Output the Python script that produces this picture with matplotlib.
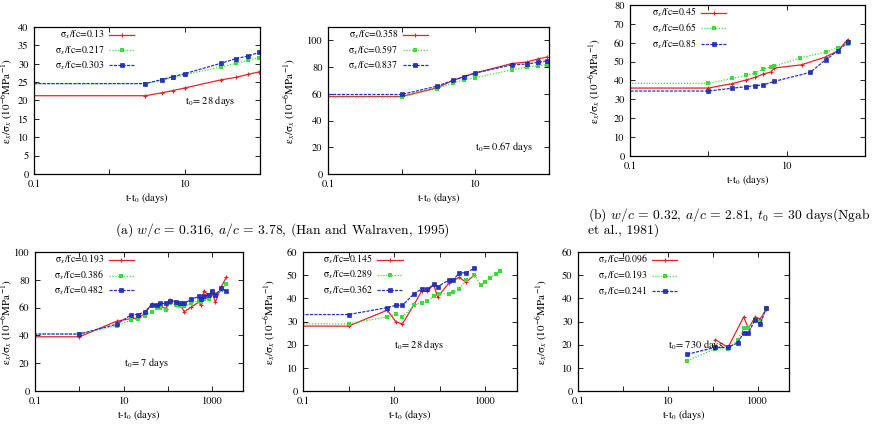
import matplotlib.pyplot as plt
from matplotlib.ticker import FixedLocator, NullFormatter

plt.rcParams['font.family'] = 'STIXGeneral'
plt.rcParams['mathtext.fontset'] = 'stix'

# (a) left, t0 = 28 days
a1_x = [0.01, 3, 5, 7, 10, 30, 48, 69, 98]
a1_r = [21.3, 21.3, 22.1, 22.7, 23.4, 25.6, 26.3, 27.1, 27.8]
a1_g = [24.6, 24.6, 25.5, 26.2, 27.0, 29.1, 30.1, 30.9, 31.7]
a1_b = [24.6, 24.6, 25.7, 26.5, 27.3, 30.1, 31.4, 32.1, 33.1]

# (a) right, t0 = 0.67 days
a2_x = [0.01, 1, 3, 5, 7, 10, 31, 50, 71, 95]
a2_r = [58.0, 58.0, 64.4, 70.1, 72.9, 75.6, 82.6, 83.8, 86.1, 87.6]
a2_g = [57.5, 57.5, 63.9, 68.2, 70.6, 72.1, 77.9, 79.9, 81.1, 81.8]
a2_b = [59.5, 59.5, 65.7, 70.1, 72.6, 75.6, 81.6, 82.3, 83.6, 84.6]

# (b) Ngab
b_xr = [0.01, 1, 2, 3, 4, 5, 6.3, 6.9, 15.5, 31.5, 44.8, 60]
b_r = [36.0, 36.0, 38.3, 40.2, 41.7, 43.4, 44.5, 46.6, 48.3, 52.5, 55.7, 61.7]
b_xg = [0.01, 1, 2, 3, 4, 5, 6.3, 6.9, 14.8, 31.5, 44.8, 60]
b_g = [38.5, 38.5, 41.1, 42.7, 43.9, 46.2, 47.1, 47.5, 52.0, 55.0, 57.3, 59.4]
b_xb = [0.01, 1, 2, 3, 4, 5, 6.9, 20, 31.5, 44.8, 60]
b_b = [34.4, 34.4, 35.9, 36.7, 37.3, 37.6, 39.5, 44.3, 51.0, 55.6, 60.3]

# bottom left, t0 = 7 days
c1_x = [0.01, 1, 7, 15, 21.5, 30, 43, 56, 68, 90, 110, 155, 191, 235, 340,
        510, 575, 650, 850, 1000, 1190, 1620, 2100]
c1_r = [39, 39, 50.2, 52.2, 52.4, 55.7, 62.4, 61, 61, 59.3, 65.8, 64, 62.2,
        57, 60.5, 64, 61.7, 72, 68.9, 70.8, 64, 74.9, 82]
c1_g = [41, 41, 47, 51, 52, 54, 57, 59.5, 59.5, 58, 63, 62, 61, 61, 63, 65,
        64, 66, 66, 71, 70, 73, 77]
c1_b = [41, 41, 48, 55, 55, 57, 62, 62, 63, 63, 65, 64, 63, 63, 66, 68, 66,
        68, 69, 72, 69, 74, 72]

# bottom middle, t0 = 28 days
c2_xr = [0.01, 1, 7.1, 11, 15.3, 27.6, 40, 54, 74, 90, 163, 270, 380, 580]
c2_r = [28, 28, 34.9, 29.8, 29.0, 37.4, 43.0, 43.0, 46.0, 40.6, 46.8, 49.0,
        47.0, 50.0]
c2_xg = [0.01, 1, 7.1, 11, 15.3, 27.6, 40, 54, 74, 95, 163, 200, 270, 380,
         580, 800, 1000, 1300, 1700, 2100]
c2_g = [29, 29, 32.0, 33.1, 31.9, 37.0, 38.2, 38.9, 40.9, 42.0, 42.0, 42.8,
        44.0, 47.8, 50.0, 45.9, 47.0, 48.8, 50.6, 52.0]
c2_xb = [0.01, 1, 7.1, 11, 15.3, 27.6, 40, 54, 74, 90, 163, 200, 270, 380,
         580]
c2_b = [33, 33, 36, 37, 37, 42, 44, 44, 46, 45, 48, 48, 51, 51, 53]

# bottom right, t0 = 730 days
c3_xr = [114, 220, 490, 625, 885, 1150, 1550]
c3_r = [22.2, 18.8, 32.0, 27.0, 32.0, 31.1, 35.3]
c3_x = [27.4, 114, 220, 359, 490, 625, 885, 1150, 1550]
c3_g = [13.1, 18.2, 18.2, 22.0, 27.0, 27.0, 30.8, 29.8, 35.9]
c3_b = [15.9, 18.8, 18.8, 20.8, 25.1, 25.1, 30.8, 28.8, 35.9]

RED = '#e5232b'
GREEN = '#3ddc3d'
BLUE = '#2233cc'
styles = [
    dict(color=RED, ls='-', marker='+', ms=3.5, mew=0.8),
    dict(color=GREEN, ls=(0, (1, 1.3)), marker='s', ms=2.3, mew=0),
    dict(color=BLUE, ls=(0, (2.5, 1)), marker='s', ms=2.3, mew=0.4,
         mec='#101890'),
]

fig = plt.figure(figsize=[8.72, 4.40], dpi=100)
W, H = 872.0, 440.0


def panel(box, series, labels, xmax, ymax, ystep, xticks, minor, note, ylab_x):
    l, t, r, b = box
    ax = fig.add_axes([l / W, 1 - b / H, (r - l) / W, (b - t) / H])
    for (x, y), lab, st in zip(series, labels, styles):
        ax.plot(x, y, lw=0.9, label=lab, **st)
    ax.set_xscale('log')
    ax.set_xlim(0.1, xmax)
    ax.set_ylim(0, ymax)
    ax.set_xticks(xticks, [f'{v:g}' for v in xticks])
    ax.xaxis.set_minor_locator(FixedLocator(minor))
    ax.xaxis.set_minor_formatter(NullFormatter())
    yt = list(range(0, int(ymax) + 1, ystep))
    ax.set_yticks(yt)
    ax.tick_params(which='both', direction='in', top=True, right=True,
                   length=3.5, width=0.6, labelsize=7.5, pad=4)
    for s in ax.spines.values():
        s.set_linewidth(0.9)
    ax.set_xlabel('t-t$_0$ (days)', fontsize=7.5)
    ax.xaxis.set_label_coords(0.5, -17 / (b - t), transform=ax.transAxes)
    ax.set_ylabel('ε$_x$/σ$_x$ (10$^{-6}$MPa$^{-1}$)', fontsize=8)
    ax.yaxis.set_label_coords((ylab_x - l) / (r - l), 0.5)
    ax.legend(loc='upper left', bbox_to_anchor=(0.088, 1.0), frameon=False,
              markerfirst=False, fontsize=7, handlelength=2.6,
              labelspacing=0.25, borderaxespad=0.0, borderpad=0.1,
              handletextpad=0.5)
    if note:
        ax.text(10, 20, note, fontsize=7.5, va='center', ha='left')
    return ax


decades2 = [0.1, 10]
decades3 = [0.1, 10, 1000]

panel((34, 27, 260, 174), [(a1_x, a1_r), (a1_x, a1_g), (a1_x, a1_b)],
      ['σ$_x$/fc=0.13', 'σ$_x$/fc=0.217', 'σ$_x$/fc=0.303'],
      100, 40, 5, decades2, [1, 100], 't$_0$= 28 days', 15)
panel((328, 27, 549, 174), [(a2_x, a2_r), (a2_x, a2_g), (a2_x, a2_b)],
      ['σ$_x$/fc=0.358', 'σ$_x$/fc=0.597', 'σ$_x$/fc=0.837'],
      100, 110, 20, decades2, [1, 100], 't$_0$= 0.67 days', 298)
panel((630, 5, 865, 156), [(b_xr, b_r), (b_xg, b_g), (b_xb, b_b)],
      ['σ$_x$/fc=0.45', 'σ$_x$/fc=0.65', 'σ$_x$/fc=0.85'],
      100, 80, 10, decades2, [1, 100], None, 603)
panel((35, 252, 243, 391), [(c1_x, c1_r), (c1_x, c1_g), (c1_x, c1_b)],
      ['σ$_x$/fc=0.193', 'σ$_x$/fc=0.386', 'σ$_x$/fc=0.482'],
      5000, 100, 20, decades3, [1, 100], 't$_0$= 7 days', 15)
panel((303, 252, 517, 391), [(c2_xr, c2_r), (c2_xg, c2_g), (c2_xb, c2_b)],
      ['σ$_x$/fc=0.145', 'σ$_x$/fc=0.289', 'σ$_x$/fc=0.362'],
      5000, 60, 10, decades3, [1, 100], 't$_0$= 28 days', 278)
panel((578, 252, 789, 391), [(c3_xr, c3_r), (c3_x, c3_g), (c3_x, c3_b)],
      ['σ$_x$/fc=0.096', 'σ$_x$/fc=0.193', 'σ$_x$/fc=0.241'],
      5000, 60, 10, decades3, [1, 100], 't$_0$= 730 days', 550)

cap = dict(fontsize=9.8, family='cmr10', math_fontfamily='cm')
fig.text(282 / W, 1 - 230 / H,
         r'(a) $w/c$ = 0.316, $a/c$ = 3.78, (Han and Walraven, 1995)',
         ha='center', va='center', **cap)
fig.text(588 / W, 1 - 215 / H,
         r'(b) $w/c$ = 0.32, $a/c$ = 2.81, $t_0$ = 30 days(Ngab',
         ha='left', va='center', **cap)
fig.text(588 / W, 1 - 230 / H, 'et al., 1981)', ha='left', va='center', **cap)

fig.savefig('out.png', dpi=100)
